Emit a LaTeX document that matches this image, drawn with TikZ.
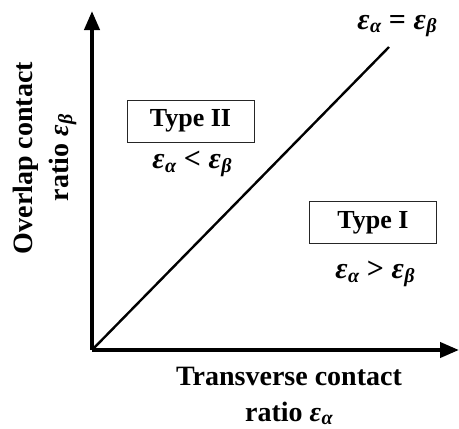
\documentclass[tikz,border=0pt]{standalone}
\usepackage{fontspec}
\setmainfont{Liberation Serif}
\usetikzlibrary{arrows.meta}
\newcommand{\epsv}[1]{\textbf{\textit{ε}}\kern0.5pt\raisebox{-0.25ex}{\fontsize{20}{22}\selectfont\textit{#1}}}
\begin{document}
\begin{tikzpicture}[x=1pt,y=-1pt,
  axis/.style={line width=4pt,-{Triangle[length=19pt,width=15pt]}},
  diag/.style={line width=2.4pt},
  typebox/.style={draw=black!85,line width=1pt,minimum width=127pt,minimum height=42pt,inner sep=0pt,font=\fontsize{26}{28}\selectfont\bfseries},
  lbl/.style={font=\fontsize{28}{36}\selectfont\bfseries,align=center,inner sep=0pt},
  rel/.style={font=\fontsize{30}{32}\selectfont\bfseries,inner sep=0pt}]
\useasboundingbox (0,0) rectangle (459,429);
\coordinate (O) at (92,350);
\coordinate (ytip) at (92,11);
\coordinate (xtip) at (459,350);
\coordinate (dend) at (389,47);
\draw[axis] (O) -- (ytip);
\draw[axis] (O) -- (xtip);
\draw[diag] (O) -- (dend);
\node[typebox] (t2) at (190.5,121) {Type II};
\node[rel] (r2) at (192,164) {\epsv{α} < \epsv{β}};
\node[typebox] (t1) at (373,222.5) {Type I};
\node[rel] (r1) at (375,274) {\epsv{α} > \epsv{β}};
\node[rel] (eq) at (397,26) {\epsv{α} = \epsv{β}};
\node[lbl] (xl) at (289,396) {Transverse contact\\ratio \epsv{α}};
\node[lbl,rotate=90] (yl) at (45,158) {Overlap contact\\ratio \epsv{β}};
\end{tikzpicture}
\end{document}
